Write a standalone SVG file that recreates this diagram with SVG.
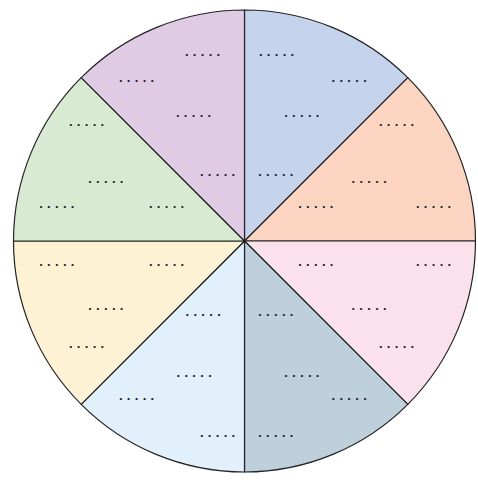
<svg xmlns="http://www.w3.org/2000/svg" width="478" height="484" viewBox="0 0 478 484">
<style>
.s{stroke:#222;stroke-width:1.2;stroke-linejoin:round}
.t{font-family:"Liberation Sans",Arial,sans-serif;font-size:13px;font-weight:bold;letter-spacing:4.3px;fill:#222}
</style>
<rect width="478" height="484" fill="#fff"/>
<g id="sector-top-right">
<path class="s" fill="#c5d4ec" d="M244.5,241 L244.5,10 A231,231 0 0 1 407.8,77.7 Z"/>
<text class="t" x="258.9" y="55.5">.....</text>
<text class="t" x="331.5" y="82.1">.....</text>
<text class="t" x="284.2" y="116.5">.....</text>
<text class="t" x="258.2" y="176.1">.....</text>
</g>
<g id="sector-right-upper">
<path class="s" fill="#fcd4c2" d="M244.5,241 L407.8,77.7 A231,231 0 0 1 475.5,241 Z"/>
<text class="t" x="378.9" y="126.1">.....</text>
<text class="t" x="351.5" y="182.8">.....</text>
<text class="t" x="298.2" y="208.1">.....</text>
<text class="t" x="415.9" y="208.1">.....</text>
</g>
<g id="sector-right-lower">
<path class="s" fill="#fbe1eb" d="M244.5,241 L475.5,241 A231,231 0 0 1 407.8,404.3 Z"/>
<text class="t" x="298.2" y="265.5">.....</text>
<text class="t" x="415.9" y="265.5">.....</text>
<text class="t" x="351.4" y="309.8">.....</text>
<text class="t" x="378.9" y="348.1">.....</text>
</g>
<g id="sector-bottom-right">
<path class="s" fill="#bdd0dc" d="M244.5,241 L407.8,404.3 A231,231 0 0 1 244.5,472 Z"/>
<text class="t" x="258.2" y="315.5">.....</text>
<text class="t" x="284.2" y="376.5">.....</text>
<text class="t" x="331.5" y="399.5">.....</text>
<text class="t" x="258.2" y="436.5">.....</text>
</g>
<g id="sector-bottom-left">
<path class="s" fill="#e1f0fa" d="M244.5,241 L244.5,472 A231,231 0 0 1 81.2,404.3 Z"/>
<text class="t" x="185.5" y="315.5">.....</text>
<text class="t" x="176.5" y="376.5">.....</text>
<text class="t" x="118.9" y="399.5">.....</text>
<text class="t" x="199.9" y="436.5">.....</text>
</g>
<g id="sector-left-lower">
<path class="s" fill="#fef2d5" d="M244.5,241 L81.2,404.3 A231,231 0 0 1 13.5,241 Z"/>
<text class="t" x="39.2" y="265.5">.....</text>
<text class="t" x="148.9" y="265.5">.....</text>
<text class="t" x="88.2" y="309.8">.....</text>
<text class="t" x="68.9" y="348.1">.....</text>
</g>
<g id="sector-left-upper">
<path class="s" fill="#d9ead3" d="M244.5,241 L13.5,241 A231,231 0 0 1 81.2,77.7 Z"/>
<text class="t" x="68.9" y="126.1">.....</text>
<text class="t" x="88.2" y="182.8">.....</text>
<text class="t" x="39.2" y="208.1">.....</text>
<text class="t" x="148.9" y="208.1">.....</text>
</g>
<g id="sector-top-left">
<path class="s" fill="#dfcce4" d="M244.5,241 L81.2,77.7 A231,231 0 0 1 244.5,10 Z"/>
<text class="t" x="184.9" y="55.5">.....</text>
<text class="t" x="118.9" y="82.1">.....</text>
<text class="t" x="175.9" y="116.5">.....</text>
<text class="t" x="199.9" y="176.1">.....</text>
</g>
<g id="connectors"></g>
</svg>
